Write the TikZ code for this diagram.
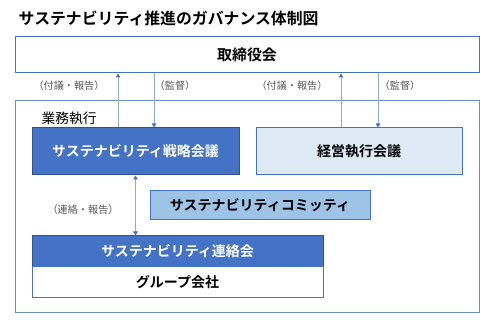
\documentclass[tikz,border=0pt]{standalone}
\usepackage{fontspec}
\setmainfont{Noto Sans CJK JP}[BoldFont={Noto Sans CJK JP Bold}]
\usetikzlibrary{arrows.meta, positioning}
\definecolor{clrMain}  {HTML}{4472C4}
\definecolor{clrEdge}  {HTML}{2F528F}
\definecolor{clrLight} {HTML}{DEEBF7}
\definecolor{clrMid}   {HTML}{9DC3E6}
\definecolor{clrLine}  {HTML}{8FAADC}
\definecolor{clrNote}  {HTML}{595959}
\tikzset{
  box/.style = {
    rectangle, draw=clrMain, line width=0.75pt,
    inner sep=0pt, font=\bfseries\fontsize{10.5pt}{12pt}\selectfont,
  },
  plain/.style  = {box, fill=white, text=black},
  strong/.style = {box, fill=clrMain, draw=clrEdge, text=white},
  soft/.style   = {box, fill=clrLight, text=black},
  mid/.style    = {box, fill=clrMid, text=black},
  frame/.style  = {rectangle, draw=clrMain!80, line width=0.75pt, inner sep=0pt},
  arr/.style  = {-{Triangle[length=3pt, width=3.5pt, color=clrMain]},
                 line width=0.75pt, color=clrLine},
  darr/.style = {{Triangle[length=3pt, width=3.5pt, color=clrMain]}-{Triangle[length=3pt, width=3.5pt, color=clrMain]},
                 line width=0.75pt, color=clrLine},
  lbl/.style  = {font=\fontsize{7.6pt}{8pt}\selectfont, text=clrNote},
}

\begin{document}
\begin{tikzpicture}[x=0.75pt, y=-0.75pt]
\useasboundingbox (0,0) rectangle (493,320);

% ── title ─────────────────────────────────────────────────────────────
\node[anchor=west, font=\bfseries\fontsize{11.9pt}{13pt}\selectfont]
  (title) at (14,18) {サステナビリティ推進のガバナンス体制図};

% ── board ─────────────────────────────────────────────────────────────
\node[plain, minimum width=348pt, minimum height=27pt,
      font=\bfseries\fontsize{11.2pt}{13pt}\selectfont]
  (board) at (247,55) {取締役会};

% ── execution frame ───────────────────────────────────────────────────
\node[frame, minimum width=348pt, minimum height=159pt] (exec) at (247,207) {};
\node[anchor=west, font=\fontsize{10.3pt}{12pt}\selectfont]
  (execlbl) at (37,118) {業務執行};

\node[strong, minimum width=155.25pt, minimum height=35.25pt] (strat) at (135.5,151.5)
  {サステナビリティ戦略会議};
\node[soft, minimum width=154.5pt, minimum height=35.25pt] (mgmt) at (359,151.5)
  {経営執行会議};
\node[mid, minimum width=165pt, minimum height=21.75pt] (cmte) at (260,205.5)
  {サステナビリティコミッティ};
\node[strong, minimum width=218.25pt, minimum height=23.25pt] (liaison) at (177.5,251.5)
  {サステナビリティ連絡会};
\node[plain, minimum width=218.25pt, minimum height=23.25pt] (group) at (177.5,282.5)
  {グループ会社};

% ── arrows ────────────────────────────────────────────────────────────
\coordinate (upL) at (118,0);
\coordinate (dnL) at (154,0);
\coordinate (upR) at (341,0);
\coordinate (dnR) at (378,0);

\draw[arr] (upL |- strat.north) -- (upL |- board.south);
\draw[arr] (dnL |- board.south) -- (dnL |- strat.north);
\draw[arr] (upR |- mgmt.north)  -- (upR |- board.south);
\draw[arr] (dnR |- board.south) -- (dnR |- mgmt.north);
\draw[darr] (strat.south) -- (strat.south |- liaison.north);

\node[lbl] (l1) at (69,86)  {（付議・報告）};
\node[lbl] (l2) at (175,86) {（監督）};
\node[lbl] (l3) at (292,86) {（付議・報告）};
\node[lbl] (l4) at (400,86) {（監督）};
\node[lbl] (l5) at (83,210) {（連絡・報告）};

\end{tikzpicture}
\end{document}
